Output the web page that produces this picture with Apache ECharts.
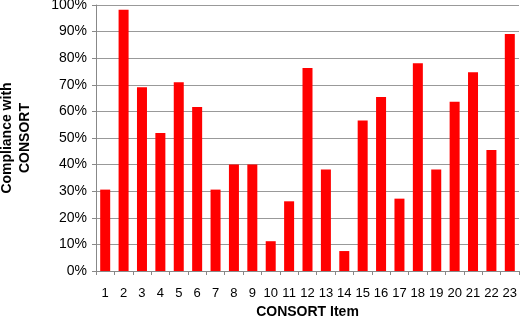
<!DOCTYPE html>
<html><head><meta charset="utf-8">
<script src="https://cdn.jsdelivr.net/npm/echarts@6/dist/echarts.min.js"></script>
<style>html,body{margin:0;padding:0;background:#fff}#c{width:520px;height:318px}</style>
</head><body><div id="c"></div>
<script>
const categories = ['1','2','3','4','5','6','7','8','9','10','11','12','13','14','15','16','17','18','19','20','21','22','23'];
const compliance = [30.6, 98.2, 69.1, 51.9, 71.0, 61.7, 30.6, 40.0, 40.0, 11.2, 26.2, 76.3, 38.2, 7.5, 56.6, 65.4, 27.2, 78.1, 38.2, 63.6, 74.7, 45.5, 89.1];
const yTicks = [0, 10, 20, 30, 40, 50, 60, 70, 80, 90, 100];

const chart = echarts.init(document.getElementById('c'), null, {renderer: 'canvas'});
const font = '"Liberation Sans", Arial, sans-serif';
chart.setOption({
  animation: false,
  grid: {left: 96, right: 1, top: 5, bottom: 47, containLabel: false, outerBoundsMode: 'none'},
  xAxis: {
    type: 'category',
    data: categories,
    name: 'CONSORT Item',
    nameLocation: 'middle',
    nameGap: 34,
    nameTextStyle: {fontFamily: font, fontSize: 14, fontWeight: 'bold', color: '#000'},
    axisLine: {lineStyle: {color: '#888', width: 1}},
    axisTick: {show: true, length: 4, lineStyle: {color: '#888'}},
    axisLabel: {fontFamily: font, fontSize: 13, color: '#000', margin: 16, interval: 0}
  },
  yAxis: {
    type: 'value',
    min: 0, max: 100, interval: 10,
    name: 'Compliance with\nCONSORT',
    nameLocation: 'middle',
    nameGap: 62,
    nameTextStyle: {fontFamily: font, fontSize: 14, fontWeight: 'bold', color: '#000', lineHeight: 18},
    axisLine: {show: true, lineStyle: {color: '#888', width: 1}},
    axisTick: {show: true, length: 4, lineStyle: {color: '#888'}},
    axisLabel: {fontFamily: font, fontSize: 14, color: '#000', margin: 9,
      formatter: v => yTicks.includes(v) ? v + '%' : ''},
    splitLine: {lineStyle: {color: '#999', width: 1}}
  },
  series: [{
    type: 'bar',
    data: compliance,
    barWidth: 10,
    itemStyle: {color: '#ff0000'}
  }]
});
</script></body></html>
